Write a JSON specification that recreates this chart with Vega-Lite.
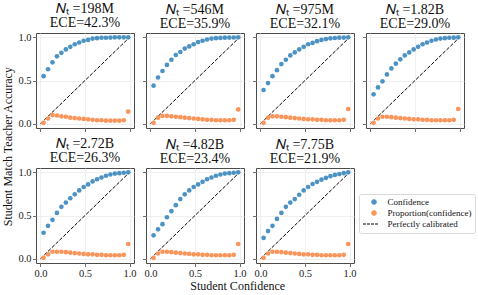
{
"$schema": "https://vega.github.io/schema/vega-lite/v6.json",
"padding": {"left": 2, "top": 1, "right": 2, "bottom": 2},
"background": "white",
"config": {
  "font": "Liberation Serif",
  "view": {"stroke": "#4a4a4a", "strokeWidth": 1},
  "axis": {"grid": true, "gridColor": "#ebebeb", "gridWidth": 0.8, "domain": false, "tickColor": "#4a4a4a", "tickSize": 3.5, "tickWidth": 0.8, "labelFont": "Liberation Serif", "labelFontSize": 10.5, "labelColor": "#222222", "labelPadding": 1.5},
  "title": {"font": "Liberation Serif", "fontSize": 14, "fontWeight": "normal", "lineHeight": 14.5, "offset": 2, "color": "#111111"},
  "legend": {"labelFont": "Liberation Serif"}
},
"datasets": {
  "diag": [
    {"x": 0, "y": 0, "s": "Perfectly calibrated"},
    {"x": 1, "y": 1, "s": "Perfectly calibrated"}
  ],
  "pts": [
    {"m":"198M","x":0.035,"Confidence":0.55,"Proportion(confidence)":0.01},
    {"m":"198M","x":0.085,"Confidence":0.63,"Proportion(confidence)":0.06},
    {"m":"198M","x":0.135,"Confidence":0.71,"Proportion(confidence)":0.10},
    {"m":"198M","x":0.185,"Confidence":0.78,"Proportion(confidence)":0.095},
    {"m":"198M","x":0.235,"Confidence":0.82,"Proportion(confidence)":0.085},
    {"m":"198M","x":0.285,"Confidence":0.86,"Proportion(confidence)":0.08},
    {"m":"198M","x":0.335,"Confidence":0.89,"Proportion(confidence)":0.07},
    {"m":"198M","x":0.385,"Confidence":0.92,"Proportion(confidence)":0.065},
    {"m":"198M","x":0.435,"Confidence":0.94,"Proportion(confidence)":0.06},
    {"m":"198M","x":0.485,"Confidence":0.96,"Proportion(confidence)":0.055},
    {"m":"198M","x":0.535,"Confidence":0.97,"Proportion(confidence)":0.05},
    {"m":"198M","x":0.585,"Confidence":0.985,"Proportion(confidence)":0.045},
    {"m":"198M","x":0.635,"Confidence":0.99,"Proportion(confidence)":0.04},
    {"m":"198M","x":0.685,"Confidence":0.995,"Proportion(confidence)":0.04},
    {"m":"198M","x":0.735,"Confidence":0.995,"Proportion(confidence)":0.035},
    {"m":"198M","x":0.785,"Confidence":0.997,"Proportion(confidence)":0.035},
    {"m":"198M","x":0.835,"Confidence":1.0,"Proportion(confidence)":0.035},
    {"m":"198M","x":0.885,"Confidence":1.0,"Proportion(confidence)":0.035},
    {"m":"198M","x":0.935,"Confidence":1.0,"Proportion(confidence)":0.04},
    {"m":"198M","x":0.985,"Confidence":1.0,"Proportion(confidence)":0.14},

    {"m":"546M","x":0.035,"Confidence":0.44,"Proportion(confidence)":0.01},
    {"m":"546M","x":0.085,"Confidence":0.535,"Proportion(confidence)":0.07},
    {"m":"546M","x":0.135,"Confidence":0.61,"Proportion(confidence)":0.09},
    {"m":"546M","x":0.185,"Confidence":0.68,"Proportion(confidence)":0.09},
    {"m":"546M","x":0.235,"Confidence":0.74,"Proportion(confidence)":0.085},
    {"m":"546M","x":0.285,"Confidence":0.795,"Proportion(confidence)":0.08},
    {"m":"546M","x":0.335,"Confidence":0.83,"Proportion(confidence)":0.075},
    {"m":"546M","x":0.385,"Confidence":0.87,"Proportion(confidence)":0.07},
    {"m":"546M","x":0.435,"Confidence":0.895,"Proportion(confidence)":0.065},
    {"m":"546M","x":0.485,"Confidence":0.92,"Proportion(confidence)":0.06},
    {"m":"546M","x":0.535,"Confidence":0.945,"Proportion(confidence)":0.055},
    {"m":"546M","x":0.585,"Confidence":0.96,"Proportion(confidence)":0.05},
    {"m":"546M","x":0.635,"Confidence":0.975,"Proportion(confidence)":0.045},
    {"m":"546M","x":0.685,"Confidence":0.985,"Proportion(confidence)":0.045},
    {"m":"546M","x":0.735,"Confidence":0.99,"Proportion(confidence)":0.04},
    {"m":"546M","x":0.785,"Confidence":0.993,"Proportion(confidence)":0.04},
    {"m":"546M","x":0.835,"Confidence":0.996,"Proportion(confidence)":0.04},
    {"m":"546M","x":0.885,"Confidence":0.997,"Proportion(confidence)":0.04},
    {"m":"546M","x":0.935,"Confidence":0.998,"Proportion(confidence)":0.045},
    {"m":"546M","x":0.985,"Confidence":1.0,"Proportion(confidence)":0.165},

    {"m":"975M","x":0.035,"Confidence":0.39,"Proportion(confidence)":0.01},
    {"m":"975M","x":0.085,"Confidence":0.47,"Proportion(confidence)":0.07},
    {"m":"975M","x":0.135,"Confidence":0.55,"Proportion(confidence)":0.085},
    {"m":"975M","x":0.185,"Confidence":0.62,"Proportion(confidence)":0.085},
    {"m":"975M","x":0.235,"Confidence":0.69,"Proportion(confidence)":0.08},
    {"m":"975M","x":0.285,"Confidence":0.74,"Proportion(confidence)":0.075},
    {"m":"975M","x":0.335,"Confidence":0.79,"Proportion(confidence)":0.07},
    {"m":"975M","x":0.385,"Confidence":0.825,"Proportion(confidence)":0.065},
    {"m":"975M","x":0.435,"Confidence":0.86,"Proportion(confidence)":0.06},
    {"m":"975M","x":0.485,"Confidence":0.89,"Proportion(confidence)":0.055},
    {"m":"975M","x":0.535,"Confidence":0.92,"Proportion(confidence)":0.05},
    {"m":"975M","x":0.585,"Confidence":0.935,"Proportion(confidence)":0.05},
    {"m":"975M","x":0.635,"Confidence":0.955,"Proportion(confidence)":0.045},
    {"m":"975M","x":0.685,"Confidence":0.97,"Proportion(confidence)":0.045},
    {"m":"975M","x":0.735,"Confidence":0.98,"Proportion(confidence)":0.04},
    {"m":"975M","x":0.785,"Confidence":0.988,"Proportion(confidence)":0.04},
    {"m":"975M","x":0.835,"Confidence":0.992,"Proportion(confidence)":0.04},
    {"m":"975M","x":0.885,"Confidence":0.996,"Proportion(confidence)":0.04},
    {"m":"975M","x":0.935,"Confidence":0.997,"Proportion(confidence)":0.045},
    {"m":"975M","x":0.985,"Confidence":1.0,"Proportion(confidence)":0.17},

    {"m":"1.82B","x":0.035,"Confidence":0.34,"Proportion(confidence)":0.01},
    {"m":"1.82B","x":0.085,"Confidence":0.42,"Proportion(confidence)":0.06},
    {"m":"1.82B","x":0.135,"Confidence":0.49,"Proportion(confidence)":0.08},
    {"m":"1.82B","x":0.185,"Confidence":0.57,"Proportion(confidence)":0.08},
    {"m":"1.82B","x":0.235,"Confidence":0.64,"Proportion(confidence)":0.075},
    {"m":"1.82B","x":0.285,"Confidence":0.695,"Proportion(confidence)":0.07},
    {"m":"1.82B","x":0.335,"Confidence":0.745,"Proportion(confidence)":0.065},
    {"m":"1.82B","x":0.385,"Confidence":0.79,"Proportion(confidence)":0.06},
    {"m":"1.82B","x":0.435,"Confidence":0.825,"Proportion(confidence)":0.055},
    {"m":"1.82B","x":0.485,"Confidence":0.86,"Proportion(confidence)":0.05},
    {"m":"1.82B","x":0.535,"Confidence":0.89,"Proportion(confidence)":0.05},
    {"m":"1.82B","x":0.585,"Confidence":0.92,"Proportion(confidence)":0.045},
    {"m":"1.82B","x":0.635,"Confidence":0.94,"Proportion(confidence)":0.045},
    {"m":"1.82B","x":0.685,"Confidence":0.96,"Proportion(confidence)":0.04},
    {"m":"1.82B","x":0.735,"Confidence":0.975,"Proportion(confidence)":0.04},
    {"m":"1.82B","x":0.785,"Confidence":0.985,"Proportion(confidence)":0.04},
    {"m":"1.82B","x":0.835,"Confidence":0.99,"Proportion(confidence)":0.04},
    {"m":"1.82B","x":0.885,"Confidence":0.995,"Proportion(confidence)":0.04},
    {"m":"1.82B","x":0.935,"Confidence":0.996,"Proportion(confidence)":0.045},
    {"m":"1.82B","x":0.985,"Confidence":1.0,"Proportion(confidence)":0.17},

    {"m":"2.72B","x":0.035,"Confidence":0.30,"Proportion(confidence)":0.01},
    {"m":"2.72B","x":0.085,"Confidence":0.38,"Proportion(confidence)":0.05},
    {"m":"2.72B","x":0.135,"Confidence":0.45,"Proportion(confidence)":0.08},
    {"m":"2.72B","x":0.185,"Confidence":0.53,"Proportion(confidence)":0.08},
    {"m":"2.72B","x":0.235,"Confidence":0.60,"Proportion(confidence)":0.08},
    {"m":"2.72B","x":0.285,"Confidence":0.65,"Proportion(confidence)":0.075},
    {"m":"2.72B","x":0.335,"Confidence":0.70,"Proportion(confidence)":0.07},
    {"m":"2.72B","x":0.385,"Confidence":0.745,"Proportion(confidence)":0.065},
    {"m":"2.72B","x":0.435,"Confidence":0.79,"Proportion(confidence)":0.06},
    {"m":"2.72B","x":0.485,"Confidence":0.83,"Proportion(confidence)":0.055},
    {"m":"2.72B","x":0.535,"Confidence":0.86,"Proportion(confidence)":0.05},
    {"m":"2.72B","x":0.585,"Confidence":0.895,"Proportion(confidence)":0.05},
    {"m":"2.72B","x":0.635,"Confidence":0.92,"Proportion(confidence)":0.045},
    {"m":"2.72B","x":0.685,"Confidence":0.94,"Proportion(confidence)":0.045},
    {"m":"2.72B","x":0.735,"Confidence":0.96,"Proportion(confidence)":0.04},
    {"m":"2.72B","x":0.785,"Confidence":0.975,"Proportion(confidence)":0.04},
    {"m":"2.72B","x":0.835,"Confidence":0.985,"Proportion(confidence)":0.04},
    {"m":"2.72B","x":0.885,"Confidence":0.99,"Proportion(confidence)":0.04},
    {"m":"2.72B","x":0.935,"Confidence":0.995,"Proportion(confidence)":0.045},
    {"m":"2.72B","x":0.985,"Confidence":1.0,"Proportion(confidence)":0.17},

    {"m":"4.82B","x":0.035,"Confidence":0.27,"Proportion(confidence)":0.01},
    {"m":"4.82B","x":0.085,"Confidence":0.34,"Proportion(confidence)":0.06},
    {"m":"4.82B","x":0.135,"Confidence":0.40,"Proportion(confidence)":0.08},
    {"m":"4.82B","x":0.185,"Confidence":0.48,"Proportion(confidence)":0.08},
    {"m":"4.82B","x":0.235,"Confidence":0.55,"Proportion(confidence)":0.075},
    {"m":"4.82B","x":0.285,"Confidence":0.62,"Proportion(confidence)":0.07},
    {"m":"4.82B","x":0.335,"Confidence":0.69,"Proportion(confidence)":0.065},
    {"m":"4.82B","x":0.385,"Confidence":0.745,"Proportion(confidence)":0.06},
    {"m":"4.82B","x":0.435,"Confidence":0.79,"Proportion(confidence)":0.055},
    {"m":"4.82B","x":0.485,"Confidence":0.83,"Proportion(confidence)":0.05},
    {"m":"4.82B","x":0.535,"Confidence":0.86,"Proportion(confidence)":0.05},
    {"m":"4.82B","x":0.585,"Confidence":0.89,"Proportion(confidence)":0.045},
    {"m":"4.82B","x":0.635,"Confidence":0.92,"Proportion(confidence)":0.045},
    {"m":"4.82B","x":0.685,"Confidence":0.94,"Proportion(confidence)":0.04},
    {"m":"4.82B","x":0.735,"Confidence":0.96,"Proportion(confidence)":0.04},
    {"m":"4.82B","x":0.785,"Confidence":0.975,"Proportion(confidence)":0.04},
    {"m":"4.82B","x":0.835,"Confidence":0.985,"Proportion(confidence)":0.04},
    {"m":"4.82B","x":0.885,"Confidence":0.99,"Proportion(confidence)":0.04},
    {"m":"4.82B","x":0.935,"Confidence":0.995,"Proportion(confidence)":0.045},
    {"m":"4.82B","x":0.985,"Confidence":1.0,"Proportion(confidence)":0.17},

    {"m":"7.75B","x":0.035,"Confidence":0.24,"Proportion(confidence)":0.01},
    {"m":"7.75B","x":0.085,"Confidence":0.32,"Proportion(confidence)":0.06},
    {"m":"7.75B","x":0.135,"Confidence":0.38,"Proportion(confidence)":0.08},
    {"m":"7.75B","x":0.185,"Confidence":0.46,"Proportion(confidence)":0.08},
    {"m":"7.75B","x":0.235,"Confidence":0.53,"Proportion(confidence)":0.075},
    {"m":"7.75B","x":0.285,"Confidence":0.60,"Proportion(confidence)":0.07},
    {"m":"7.75B","x":0.335,"Confidence":0.65,"Proportion(confidence)":0.065},
    {"m":"7.75B","x":0.385,"Confidence":0.69,"Proportion(confidence)":0.06},
    {"m":"7.75B","x":0.435,"Confidence":0.74,"Proportion(confidence)":0.055},
    {"m":"7.75B","x":0.485,"Confidence":0.79,"Proportion(confidence)":0.05},
    {"m":"7.75B","x":0.535,"Confidence":0.83,"Proportion(confidence)":0.05},
    {"m":"7.75B","x":0.585,"Confidence":0.865,"Proportion(confidence)":0.045},
    {"m":"7.75B","x":0.635,"Confidence":0.89,"Proportion(confidence)":0.045},
    {"m":"7.75B","x":0.685,"Confidence":0.915,"Proportion(confidence)":0.04},
    {"m":"7.75B","x":0.735,"Confidence":0.935,"Proportion(confidence)":0.04},
    {"m":"7.75B","x":0.785,"Confidence":0.955,"Proportion(confidence)":0.04},
    {"m":"7.75B","x":0.835,"Confidence":0.97,"Proportion(confidence)":0.04},
    {"m":"7.75B","x":0.885,"Confidence":0.98,"Proportion(confidence)":0.04},
    {"m":"7.75B","x":0.935,"Confidence":0.99,"Proportion(confidence)":0.045},
    {"m":"7.75B","x":0.985,"Confidence":1.0,"Proportion(confidence)":0.17}
  ]
},
"title": {"text": "Student Match Teacher Accuracy", "orient": "left", "fontSize": 12, "anchor": "middle", "offset": 2, "font": "Liberation Serif", "fontWeight": "normal"},
"vconcat": [
{
"title": {"text": "Student Confidence", "orient": "bottom", "fontSize": 12, "anchor": "middle", "offset": 2, "dx": -9, "font": "Liberation Serif", "fontWeight": "normal"},
"columns": 4,
"bounds": "flush",
"spacing": {"row": 40, "column": 12},
"resolve": {"legend": {"color": "independent"}},
"concat": [
{
 "width": 98, "height": 95,
 "title": {"text": ["𝑁ₜ =198M", "ECE=42.3%"], "font": "Liberation Serif", "fontSize": 14, "fontWeight": "normal", "lineHeight": 14.5, "offset": 2},
 "encoding": {
  "x": {"field": "x", "type": "quantitative", "scale": {"domain": [-0.05, 1.05], "nice": false, "zero": false}, "axis": {"values": [0, 0.5, 1], "format": ".1f", "title": null, "labels": false}},
  "y": {"field": "y", "type": "quantitative", "scale": {"domain": [-0.05, 1.05], "nice": false, "zero": false}, "axis": {"values": [0, 0.5, 1], "format": ".1f", "title": null, "labelFont": "Liberation Serif"}},
  "color": {"field": "s", "type": "nominal", "scale": {"domain": ["Confidence", "Proportion(confidence)", "Perfectly calibrated"], "range": ["#4C93C4", "#F9955A", "#000000"]}, "legend": null}
 },
 "layer": [
  {"data": {"name": "diag"}, "mark": {"type": "line", "strokeDash": [3.7, 1.6], "strokeWidth": 1}},
  {"data": {"name": "pts"}, "transform": [{"filter": "datum.m == '198M'"}, {"fold": ["Confidence", "Proportion(confidence)"], "as": ["s", "y"]}], "mark": {"type": "circle", "size": 22, "opacity": 1}}
 ]
},
{
 "width": 98, "height": 95,
 "title": {"text": ["𝑁ₜ =546M", "ECE=35.9%"], "font": "Liberation Serif", "fontSize": 14, "fontWeight": "normal", "lineHeight": 14.5, "offset": 2},
 "encoding": {
  "x": {"field": "x", "type": "quantitative", "scale": {"domain": [-0.05, 1.05], "nice": false, "zero": false}, "axis": {"values": [0, 0.5, 1], "format": ".1f", "title": null, "labels": false}},
  "y": {"field": "y", "type": "quantitative", "scale": {"domain": [-0.05, 1.05], "nice": false, "zero": false}, "axis": {"values": [0, 0.5, 1], "format": ".1f", "title": null, "labels": false}},
  "color": {"field": "s", "type": "nominal", "scale": {"domain": ["Confidence", "Proportion(confidence)", "Perfectly calibrated"], "range": ["#4C93C4", "#F9955A", "#000000"]}, "legend": null}
 },
 "layer": [
  {"data": {"name": "diag"}, "mark": {"type": "line", "strokeDash": [3.7, 1.6], "strokeWidth": 1}},
  {"data": {"name": "pts"}, "transform": [{"filter": "datum.m == '546M'"}, {"fold": ["Confidence", "Proportion(confidence)"], "as": ["s", "y"]}], "mark": {"type": "circle", "size": 22, "opacity": 1}}
 ]
},
{
 "width": 98, "height": 95,
 "title": {"text": ["𝑁ₜ =975M", "ECE=32.1%"], "font": "Liberation Serif", "fontSize": 14, "fontWeight": "normal", "lineHeight": 14.5, "offset": 2},
 "encoding": {
  "x": {"field": "x", "type": "quantitative", "scale": {"domain": [-0.05, 1.05], "nice": false, "zero": false}, "axis": {"values": [0, 0.5, 1], "format": ".1f", "title": null, "labels": false}},
  "y": {"field": "y", "type": "quantitative", "scale": {"domain": [-0.05, 1.05], "nice": false, "zero": false}, "axis": {"values": [0, 0.5, 1], "format": ".1f", "title": null, "labels": false}},
  "color": {"field": "s", "type": "nominal", "scale": {"domain": ["Confidence", "Proportion(confidence)", "Perfectly calibrated"], "range": ["#4C93C4", "#F9955A", "#000000"]}, "legend": null}
 },
 "layer": [
  {"data": {"name": "diag"}, "mark": {"type": "line", "strokeDash": [3.7, 1.6], "strokeWidth": 1}},
  {"data": {"name": "pts"}, "transform": [{"filter": "datum.m == '975M'"}, {"fold": ["Confidence", "Proportion(confidence)"], "as": ["s", "y"]}], "mark": {"type": "circle", "size": 22, "opacity": 1}}
 ]
},
{
 "width": 98, "height": 95,
 "title": {"text": ["𝑁ₜ =1.82B", "ECE=29.0%"], "font": "Liberation Serif", "fontSize": 14, "fontWeight": "normal", "lineHeight": 14.5, "offset": 2},
 "encoding": {
  "x": {"field": "x", "type": "quantitative", "scale": {"domain": [-0.05, 1.05], "nice": false, "zero": false}, "axis": {"values": [0, 0.5, 1], "format": ".1f", "title": null, "labels": false}},
  "y": {"field": "y", "type": "quantitative", "scale": {"domain": [-0.05, 1.05], "nice": false, "zero": false}, "axis": {"values": [0, 0.5, 1], "format": ".1f", "title": null, "labels": false}},
  "color": {"field": "s", "type": "nominal", "scale": {"domain": ["Confidence", "Proportion(confidence)", "Perfectly calibrated"], "range": ["#4C93C4", "#F9955A", "#000000"]}, "legend": null}
 },
 "layer": [
  {"data": {"name": "diag"}, "mark": {"type": "line", "strokeDash": [3.7, 1.6], "strokeWidth": 1}},
  {"data": {"name": "pts"}, "transform": [{"filter": "datum.m == '1.82B'"}, {"fold": ["Confidence", "Proportion(confidence)"], "as": ["s", "y"]}], "mark": {"type": "circle", "size": 22, "opacity": 1}}
 ]
},
{
 "width": 98, "height": 95,
 "title": {"text": ["𝑁ₜ =2.72B", "ECE=26.3%"], "font": "Liberation Serif", "fontSize": 14, "fontWeight": "normal", "lineHeight": 14.5, "offset": 2},
 "encoding": {
  "x": {"field": "x", "type": "quantitative", "scale": {"domain": [-0.05, 1.05], "nice": false, "zero": false}, "axis": {"values": [0, 0.5, 1], "format": ".1f", "title": null, "labelFont": "Liberation Serif"}},
  "y": {"field": "y", "type": "quantitative", "scale": {"domain": [-0.05, 1.05], "nice": false, "zero": false}, "axis": {"values": [0, 0.5, 1], "format": ".1f", "title": null, "labelFont": "Liberation Serif"}},
  "color": {"field": "s", "type": "nominal", "scale": {"domain": ["Confidence", "Proportion(confidence)", "Perfectly calibrated"], "range": ["#4C93C4", "#F9955A", "#000000"]}, "legend": null}
 },
 "layer": [
  {"data": {"name": "diag"}, "mark": {"type": "line", "strokeDash": [3.7, 1.6], "strokeWidth": 1}},
  {"data": {"name": "pts"}, "transform": [{"filter": "datum.m == '2.72B'"}, {"fold": ["Confidence", "Proportion(confidence)"], "as": ["s", "y"]}], "mark": {"type": "circle", "size": 22, "opacity": 1}}
 ]
},
{
 "width": 98, "height": 95,
 "title": {"text": ["𝑁ₜ =4.82B", "ECE=23.4%"], "font": "Liberation Serif", "fontSize": 14, "fontWeight": "normal", "lineHeight": 14.5, "offset": 2},
 "encoding": {
  "x": {"field": "x", "type": "quantitative", "scale": {"domain": [-0.05, 1.05], "nice": false, "zero": false}, "axis": {"values": [0, 0.5, 1], "format": ".1f", "title": null, "labelFont": "Liberation Serif"}},
  "y": {"field": "y", "type": "quantitative", "scale": {"domain": [-0.05, 1.05], "nice": false, "zero": false}, "axis": {"values": [0, 0.5, 1], "format": ".1f", "title": null, "labels": false}},
  "color": {"field": "s", "type": "nominal", "scale": {"domain": ["Confidence", "Proportion(confidence)", "Perfectly calibrated"], "range": ["#4C93C4", "#F9955A", "#000000"]}, "legend": null}
 },
 "layer": [
  {"data": {"name": "diag"}, "mark": {"type": "line", "strokeDash": [3.7, 1.6], "strokeWidth": 1}},
  {"data": {"name": "pts"}, "transform": [{"filter": "datum.m == '4.82B'"}, {"fold": ["Confidence", "Proportion(confidence)"], "as": ["s", "y"]}], "mark": {"type": "circle", "size": 22, "opacity": 1}}
 ]
},
{
 "width": 98, "height": 95,
 "title": {"text": ["𝑁ₜ =7.75B", "ECE=21.9%"], "font": "Liberation Serif", "fontSize": 14, "fontWeight": "normal", "lineHeight": 14.5, "offset": 2},
 "encoding": {
  "x": {"field": "x", "type": "quantitative", "scale": {"domain": [-0.05, 1.05], "nice": false, "zero": false}, "axis": {"values": [0, 0.5, 1], "format": ".1f", "title": null, "labelFont": "Liberation Serif"}},
  "y": {"field": "y", "type": "quantitative", "scale": {"domain": [-0.05, 1.05], "nice": false, "zero": false}, "axis": {"values": [0, 0.5, 1], "format": ".1f", "title": null, "labels": false}},
  "color": {"field": "s", "type": "nominal", "scale": {"domain": ["Confidence", "Proportion(confidence)", "Perfectly calibrated"], "range": ["#4C93C4", "#F9955A", "#000000"]},
   "legend": {"orient": "none", "legendX": 103, "legendY": 26, "title": null, "labelFont": "Liberation Serif", "labelFontSize": 9, "labelColor": "#111111", "strokeColor": "#d9d9d9", "fillColor": "white", "cornerRadius": 2, "padding": 3.5, "rowPadding": 1, "symbolSize": 22, "symbolOffset": 7, "labelOffset": 9,
     "encode": {"symbols": {"update": {
       "shape": {"signal": "datum.label == 'Perfectly calibrated' ? 'M-4.7,0H-3.42M-2.99,0H-1.71M-1.28,0H0M0.43,0H1.71' : 'circle'"},
       "fill": {"signal": "datum.label == 'Perfectly calibrated' ? 'transparent' : (datum.label == 'Confidence' ? '#4C93C4' : '#F9955A')"},
       "stroke": {"signal": "datum.label == 'Perfectly calibrated' ? '#000000' : 'transparent'"},
       "strokeWidth": {"value": 1},
       "opacity": {"value": 1}
     }}}}
  }
 },
 "layer": [
  {"data": {"name": "diag"}, "mark": {"type": "line", "strokeDash": [3.7, 1.6], "strokeWidth": 1}},
  {"data": {"name": "pts"}, "transform": [{"filter": "datum.m == '7.75B'"}, {"fold": ["Confidence", "Proportion(confidence)"], "as": ["s", "y"]}], "mark": {"type": "circle", "size": 22, "opacity": 1}}
 ]
}
]
}
]
}
